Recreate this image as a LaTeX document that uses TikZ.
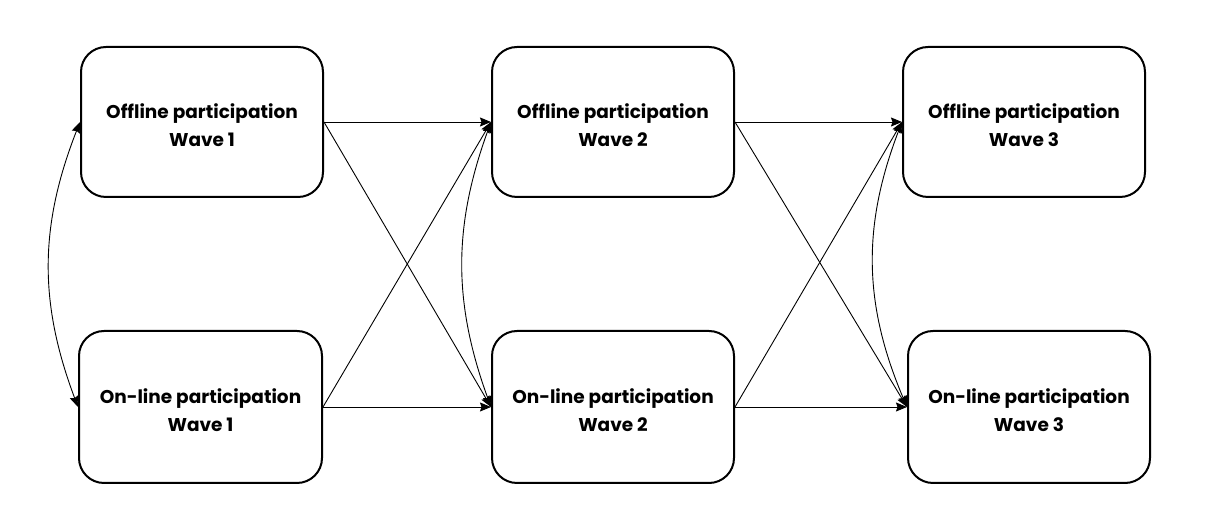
\documentclass[tikz,border=0pt]{standalone}
\usepackage{fontspec}
\setmainfont{Poppins}
\usetikzlibrary{arrows.meta}
\begin{document}
\begin{tikzpicture}[x=1pt,y=1pt,
  box/.style={draw,line width=2pt,rounded corners=25pt,minimum width=242pt,minimum height=150pt,inner sep=0pt},
  lbl/.style={font=\fontsize{18.5}{28}\selectfont\bfseries,align=center,inner sep=0pt},
  tip/.tip={Stealth[length=11pt,width=9pt,inset=1.5pt]},
  conn/.style={line width=0.9pt,-tip},
  dconn/.style={line width=0.9pt,tip-tip}]
\useasboundingbox (0,0) rectangle (1211,527);
\node[box] (o1) at (202,405) {};
\node[box,minimum width=243pt,minimum height=152pt] (n1) at (200.5,120) {};
\node[box] (o2) at (613,405) {};
\node[box,minimum height=152pt] (n2) at (613,120) {};
\node[box] (o3) at (1024,405) {};
\node[box,minimum height=152pt] (n3) at (1029,120) {};
\node[lbl] (to1) at ([yshift=-3pt]o1.center) {Offline participation\\Wave 1};
\node[lbl] (tn1) at ([yshift=-3pt]n1.center) {On-line participation\\Wave 1};
\node[lbl] (to2) at ([yshift=-3pt]o2.center) {Offline participation\\Wave 2};
\node[lbl] (tn2) at ([yshift=-3pt]n2.center) {On-line participation\\Wave 2};
\node[lbl] (to3) at ([yshift=-3pt]o3.center) {Offline participation\\Wave 3};
\node[lbl] (tn3) at ([yshift=-3pt]n3.center) {On-line participation\\Wave 3};
\draw[conn] (o1.east) -- (o2.west);
\draw[conn] (o1.east) -- (n2.west);
\draw[conn] (n1.east) -- (o2.west);
\draw[conn] (n1.east) -- (n2.west);
\draw[conn] (o2.east) -- (o3.west);
\draw[conn] (o2.east) -- (n3.west);
\draw[conn] (n2.east) -- (o3.west);
\draw[conn] (n2.east) -- (n3.west);
\draw[dconn] (o1.west) to[bend right=21] (n1.west);
\draw[dconn] (o2.west) to[bend right=20] (n2.west);
\draw[dconn] (o3.west) to[bend right=22] (n3.west);
\end{tikzpicture}
\end{document}
